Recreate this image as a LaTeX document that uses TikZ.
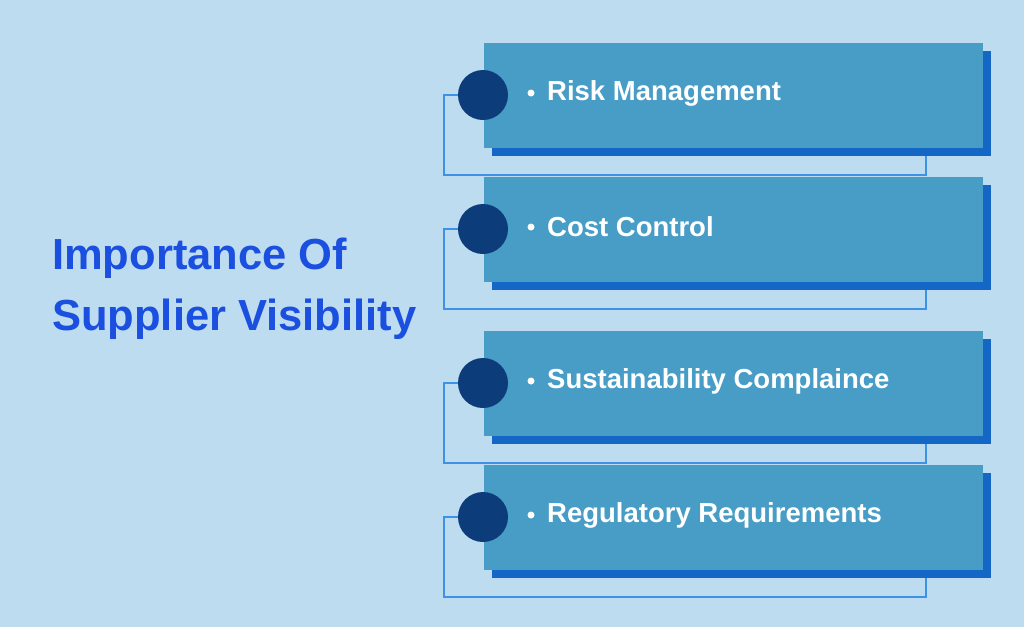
\documentclass[tikz,border=0pt]{standalone}
\usepackage{fontspec}
\setmainfont{Liberation Sans}
\definecolor{bg}{HTML}{BEDCF0}
\definecolor{boxc}{HTML}{489DC6}
\definecolor{shad}{HTML}{1467C4}
\definecolor{circ}{HTML}{0C3D7A}
\definecolor{conn}{HTML}{3E92E6}
\definecolor{ttl}{HTML}{1A4FE0}
\begin{document}
\begin{tikzpicture}[x=1pt,y=-1pt,
  itembox/.style={fill=boxc,draw=none,minimum width=499pt,minimum height=105pt,inner sep=0pt},
  shadowbox/.style={fill=shad,draw=none,minimum width=499pt,minimum height=105pt,inner sep=0pt},
  dot/.style={circle,fill=circ,minimum size=50pt,inner sep=0pt},
  bul/.style={circle,fill=white,minimum size=7pt,inner sep=0pt},
  conline/.style={draw=conn,line width=1.2pt},
  itemtext/.style={text=white,font=\bfseries\fontsize{27.5}{30}\selectfont,anchor=west,inner sep=0pt}]
\fill[bg] (0,0) rectangle (1024,627);
\useasboundingbox (0,0) rectangle (1024,627);
\node[text=ttl,font=\bfseries\fontsize{43.5}{61}\selectfont,anchor=west,align=left,inner sep=0pt] (title) at (52,289) {Importance Of\\Supplier Visibility};
\foreach \i/\top/\txt in {1/43/Risk Management,2/177/Cost Control,3/331/Sustainability Complaince,4/465/Regulatory Requirements}{
  \node[shadowbox,anchor=north west] (s\i) at (492,\top+8) {};
  \node[itembox,anchor=north west] (b\i) at (484,\top) {};
  \node[dot] (c\i) at (483,\top+52) {};
  \coordinate (p\i) at (444,\top+52);
  \coordinate (q\i) at (444,\top+132);
  \coordinate (r\i) at (926,\top+132);
  \coordinate (u\i) at (926,\top+113);
  \draw[conline] (c\i.west) -- (p\i) -- (q\i) -- (r\i) -- (u\i);
  \node[bul] (d\i) at (531,\top+50) {};
  \node[itemtext] (t\i) at (547,\top+50) {\txt};
}
\end{tikzpicture}
\end{document}
